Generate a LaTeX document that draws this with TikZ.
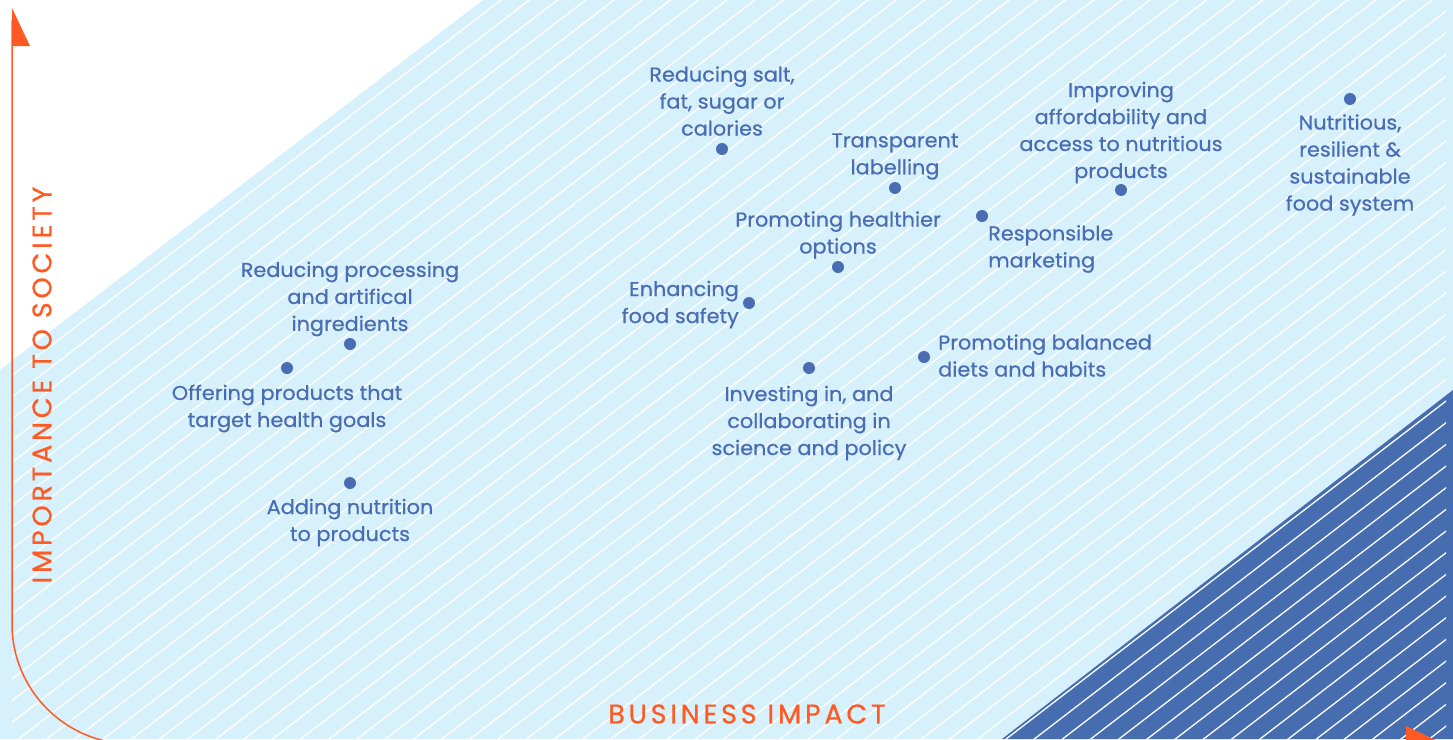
\documentclass[tikz,border=0pt]{standalone}
\usepackage{fontspec}
\setmainfont{Poppins}[FakeBold=0.6, FakeStretch=1.04]
\newfontfamily\axisfont[LetterSpace=14, FakeBold=0.6]{Poppins}
\definecolor{txtblue}{HTML}{4A6CB3}
\definecolor{darkblue}{HTML}{476DB1}
\definecolor{lightblue}{HTML}{D6F0FC}
\definecolor{axorange}{HTML}{FF5A24}
\tikzset{
  lab/.style={text=txtblue, font=\fontsize{20}{27}\selectfont, align=center, inner sep=0pt},
  dotmark/.style={circle, fill=txtblue, minimum size=12pt, inner sep=0pt},
  axislab/.style={text=axorange, font=\axisfont\fontsize{27}{30}\selectfont, inner sep=0pt},
  hatch/.style={white, line width=1.3pt},
  axisline/.style={axorange, line width=1.5pt},
}
\begin{document}
\begin{tikzpicture}[x=1pt, y=-1pt]
\useasboundingbox (0,0) rectangle (1453,739);
\begin{scope}
\clip (0,0) rectangle (1453,739);
% light band
\fill[lightblue] (0,370) -- (483,0) -- (1453,0) -- (1453,739) -- (0,739) -- cycle;
% dark triangle
\fill[darkblue] (1002,739) -- (1453,390) -- (1453,739) -- cycle;
% hatch lines
\begin{scope}
\clip (12,360.8) -- (483,0) -- (1446,0) -- (1446,739) -- (12,739) -- cycle;
\foreach \k in {-54,...,32} {
  \draw[hatch] (0,{1165+21.67*\k}) -- (1453,{1165+21.67*\k-1116});
}
\end{scope}
% axes
\draw[axisline, rounded corners=120pt] (12,20) -- (12,744) -- (1430,744);
\fill[axorange] (12,8) -- (12,46) -- (30,46) -- cycle;
\fill[axorange] (1406,726) -- (1406,744) -- (1444,744) -- cycle;
\end{scope}
\node[axislab, rotate=90] (ylab) at (42,385) {IMPORTANCE TO SOCIETY};
\node[axislab] (xlab) at (747,714) {BUSINESS IMPACT};
% items
\node[dotmark] (d1) at (722,149) {};
\node[lab] (t1) at (722,101) {Reducing salt,\\fat, sugar or\\calories};
\node[dotmark] (d2) at (895,188) {};
\node[lab] (t2) at (895,156.5) {Transparent\\labelling};
\node[dotmark] (d3) at (1121,190) {};
\node[lab] (t3) at (1121,132.5) {Improving\\affordability and\\access to nutritious\\products};
\node[dotmark] (d4) at (1350,99) {};
\node[lab] (t4) at (1350,165) {Nutritious,\\resilient \&\\sustainable\\food system};
\node[dotmark] (d5) at (838,267) {};
\node[lab] (t5) at (838,235) {Promoting healthier\\options};
\node[dotmark] (d6) at (982,216) {};
\node[lab, align=left, anchor=west] (t6) at (988,249) {Responsible\\marketing};
\node[dotmark] (d7) at (749,303) {};
\node[lab, align=right, anchor=east] (t7) at (739,304.5) {Enhancing\\food safety};
\node[dotmark] (d8) at (924,357) {};
\node[lab, align=left, anchor=west] (t8) at (938,355.5) {Promoting balanced\\diets and habits};
\node[dotmark] (d9) at (809,368) {};
\node[lab] (t9) at (809,423) {Investing in, and\\collaborating in\\science and policy};
\node[dotmark] (d10) at (350,344) {};
\node[lab] (t10) at (350,299) {Reducing processing\\and artifical\\ingredients};
\node[dotmark] (d11) at (287,368) {};
\node[lab] (t11) at (287,408.5) {Offering products that\\target health goals};
\node[dotmark] (d12) at (350,483) {};
\node[lab] (t12) at (350,522.5) {Adding nutrition\\to products};
\end{tikzpicture}
\end{document}
